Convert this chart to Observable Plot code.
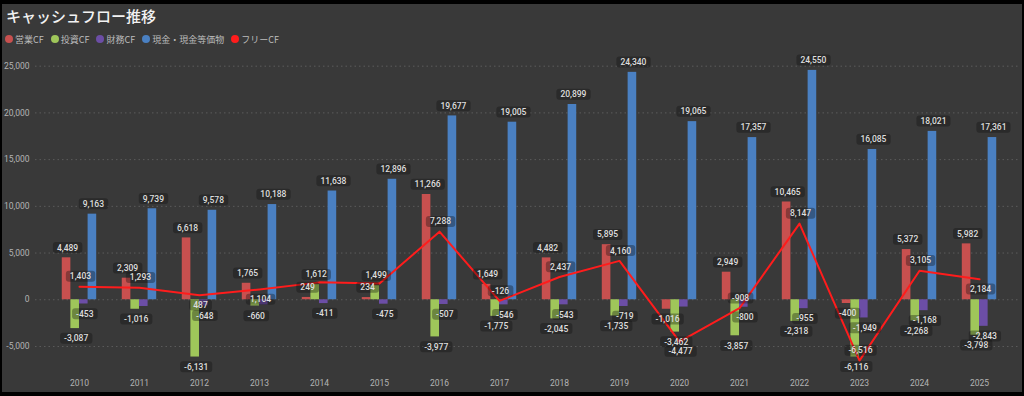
<!DOCTYPE html>
<html>
<head>
<meta charset="utf-8">
<script src="https://cdn.jsdelivr.net/npm/d3@7"></script>
<script src="https://cdn.jsdelivr.net/npm/@observablehq/plot@0.6"></script>
<style>
  html, body { margin: 0; padding: 0; background: #000; width: 1024px; height: 396px; overflow: hidden; }
  #frame { position: absolute; left: 2px; top: 4px; width: 1020px; height: 388px; background: #393939;
           font-family: Roboto, "Noto Sans CJK JP", sans-serif; }
  #title { position: absolute; left: 4px; top: 3px; font-size: 15px; line-height: 18px; font-weight: 500;
           color: #f2f2f2; font-family: "Noto Sans CJK JP", sans-serif; }
  #legend { position: absolute; left: 3px; top: 29px; height: 12px; display: flex; align-items: center;
            font-size: 9px; color: #bdbdbd; font-family: "Noto Sans CJK JP", sans-serif; }
  .item { display: flex; align-items: center; margin-right: 7px; }
  .dot { width: 8px; height: 8px; border-radius: 50%; margin-right: 2px; }
  #chart { position: absolute; left: 0; top: 42px; }
</style>
</head>
<body>
<div id="frame">
  <div id="title">キャッシュフロー推移</div>
  <div id="legend"></div>
  <div id="chart"></div>
</div>
<script>
// ---- data ----
const years = [2010, 2011, 2012, 2013, 2014, 2015, 2016, 2017, 2018, 2019, 2020, 2021, 2022, 2023, 2024, 2025];
const seriesNames = ["営業CF", "投資CF", "財務CF", "現金・現金等価物"];
const operatingCF = [4489, 2309, 6618, 1765, 249, 234, 11266, 1649, 4482, 5895, -1016, 2949, 10465, -400, 5372, 5982];
const investingCF = [-3087, -1016, -6131, -660, 1612, 1499, -3977, -1775, -2045, -1735, -3462, -3857, -2318, -6116, -2268, -3798];
const financingCF = [-453, -720, -648, -550, -411, -475, -507, -546, -543, -719, -780, -800, -955, -1949, -1168, -2843];
const cashEquiv = [9163, 9739, 9578, 10188, 11638, 12896, 19677, 19005, 20899, 24340, 19065, 17357, 24550, 16085, 18021, 17361];
const lineName = "フリーCF";
const freeCF = [1403, 1293, 487, 1104, 1861, 1733, 7288, -126, 2437, 4160, -4477, -908, 8147, -6516, 3105, 2184];
const yTicks = [-5000, 0, 5000, 10000, 15000, 20000, 25000];
// labels not shown in the reference (hidden by overlap)
const hiddenLabels = ["財務CF:2011", "財務CF:2013", "財務CF:2020", "フリーCF:2014", "フリーCF:2015"];
const fcfLabelBelow = [2012, 2013, 2020, 2025];

// ---- styles ----
const seriesColors = ["#c8504f", "#9fc65a", "#6c4ea6", "#4a80c2"];
const lineColor = "#ff1c1c";
const barW = 0.1435;

const seriesValues = [operatingCF, investingCF, financingCF, cashEquiv];
const bars = [];
years.forEach((yr, i) => seriesValues.forEach((vals, s) =>
  bars.push({year: yr, series: seriesNames[s], si: s, value: vals[i]})));
const fcf = years.map((yr, i) => ({year: yr, series: lineName, value: freeCF[i]}));

const fmt = v => (v < 0 ? "-" : "") + d3.format(",")(Math.abs(v));
const shown = d => !hiddenLabels.includes(d.series + ":" + d.year);
const bx = d => d.year - 2 * barW + d.si * barW;

// legend
const legend = document.getElementById("legend");
[...seriesNames, lineName].forEach((name, i) => {
  const it = document.createElement("div"); it.className = "item";
  const dot = document.createElement("div"); dot.className = "dot";
  dot.style.background = i < seriesColors.length ? seriesColors[i] : lineColor;
  const tx = document.createElement("span"); tx.textContent = name;
  it.appendChild(dot); it.appendChild(tx); legend.appendChild(it);
});

const labelBars = bars.filter(shown);
const labelFcf = fcf.filter(shown);
const textOpts = {fill: "#dedede", fontSize: 8.5, fontWeight: 500, text: d => fmt(d.value), dx: 1};

const chart = Plot.plot({
  width: 1020, height: 346,
  marginTop: 1, marginBottom: 18, marginLeft: 33, marginRight: 2,
  style: {background: "transparent", color: "#b4b4b4", fontFamily: "Roboto, 'Noto Sans CJK JP', sans-serif", fontSize: "8.5px"},
  x: {domain: [2009.267, 2025.683], ticks: years, tickFormat: d => String(d), tickSize: 0, tickPadding: 5, label: null},
  y: {domain: [-8000, 27000], ticks: yTicks, tickFormat: fmt, tickSize: 0, tickPadding: 6, label: null},
  color: {domain: seriesNames, range: seriesColors},
  marks: [
    Plot.ruleY(yTicks, {stroke: "#5c5c5c", strokeWidth: 1, strokeDasharray: "1.5,3"}),
    Plot.rect(bars, {x1: d => bx(d), x2: d => bx(d) + barW, y1: 0, y2: "value", fill: "series"}),
    Plot.line(fcf, {x: "year", y: "value", stroke: lineColor, strokeWidth: 2}),
    Plot.text(labelBars.filter(d => d.value >= 0), {...textOpts, x: d => bx(d) + barW / 2, y: "value", dy: -10}),
    Plot.text(labelBars.filter(d => d.value < 0), {...textOpts, x: d => bx(d) + barW / 2, y: "value", dy: 10}),
    Plot.text(labelFcf.filter(d => !fcfLabelBelow.includes(d.year)), {...textOpts, x: "year", y: "value", dy: -10}),
    Plot.text(labelFcf.filter(d => fcfLabelBelow.includes(d.year)), {...textOpts, x: "year", y: "value", dy: 10})
  ]
});
document.getElementById("chart").appendChild(chart);

// rounded label boxes behind data labels
const ns = "http://www.w3.org/2000/svg";
d3.select(chart).selectAll('g[aria-label="text"] text').each(function() {
  const b = this.getBBox();
  const r = document.createElementNS(ns, "rect");
  r.setAttribute("x", b.x - 4); r.setAttribute("y", b.y - 0.5);
  r.setAttribute("width", b.width + 8); r.setAttribute("height", b.height + 1);
  r.setAttribute("rx", 3); r.setAttribute("fill", "rgba(15,15,15,0.35)");
  const t = this.getAttribute("transform");
  if (t) r.setAttribute("transform", t);
  this.parentNode.insertBefore(r, this);
});
</script>
</body>
</html>
